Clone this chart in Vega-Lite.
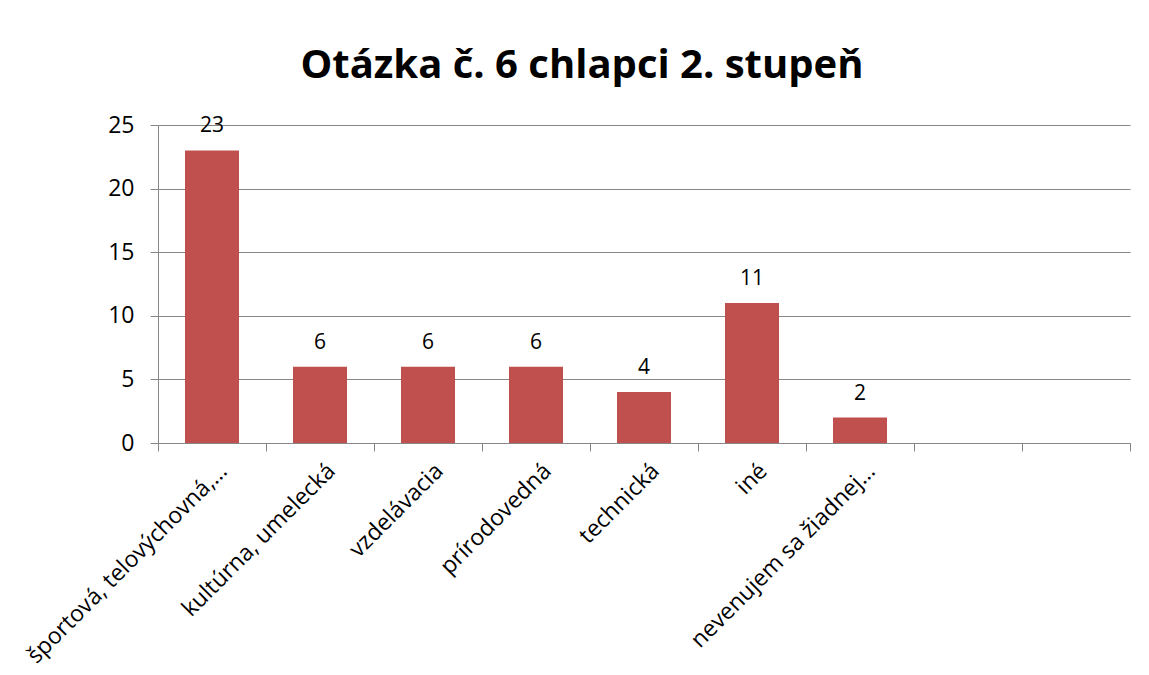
{
  "$schema": "https://vega.github.io/schema/vega-lite/v6.json",
  "width": 972,
  "height": 318,
  "autosize": "none",
  "padding": {"left": 158, "top": 125, "right": 19, "bottom": 232},
  "background": "white",
  "config": {
    "font": "Open Sans",
    "view": {"stroke": null}
  },
  "title": {
    "text": "Otázka č. 6 chlapci 2. stupeň",
    "font": "Open Sans",
    "fontSize": 40,
    "fontWeight": "bold",
    "color": "black",
    "anchor": "middle",
    "baseline": "alphabetic",
    "offset": -4,
    "dx": -62
  },
  "data": {
    "values": [
      {"kategoria": "športová, telovýchovná,…", "pocet": 23},
      {"kategoria": "kultúrna, umelecká", "pocet": 6},
      {"kategoria": "vzdelávacia", "pocet": 6},
      {"kategoria": "prírodovedná", "pocet": 6},
      {"kategoria": "technická", "pocet": 4},
      {"kategoria": "iné", "pocet": 11},
      {"kategoria": "nevenujem sa žiadnej…", "pocet": 2},
      {"kategoria": "e1", "pocet": null},
      {"kategoria": "e2", "pocet": null}
    ]
  },
  "encoding": {
    "x": {
      "field": "kategoria",
      "type": "nominal",
      "sort": null,
      "scale": {
        "domain": ["športová, telovýchovná,…", "kultúrna, umelecká", "vzdelávacia", "prírodovedná", "technická", "iné", "nevenujem sa žiadnej…", "e1", "e2"],
        "paddingInner": 0,
        "paddingOuter": 0
      },
      "axis": {
        "title": null,
        "tickBand": "extent",
        "grid": false,
        "domainColor": "#868686",
        "tickColor": "#868686",
        "tickSize": 8,
        "labelAngle": -45,
        "labelAlign": "right",
        "labelBaseline": "alphabetic",
        "labelOffset": 16,
        "labelPadding": 21,
        "labelFont": "Open Sans",
        "labelFontSize": 23,
        "labelColor": "black",
        "labelLimit": 0,
        "labelExpr": "datum.value == 'e1' || datum.value == 'e2' ? '' : datum.value"
      }
    },
    "y": {
      "field": "pocet",
      "type": "quantitative",
      "scale": {"domain": [0, 25], "nice": false},
      "axis": {
        "title": null,
        "values": [0, 5, 10, 15, 20, 25],
        "grid": true,
        "gridColor": "#868686",
        "domainColor": "#868686",
        "tickColor": "#868686",
        "tickSize": 8,
        "labelPadding": 16,
        "labelFont": "Open Sans",
        "labelFontSize": 23,
        "labelColor": "black"
      }
    }
  },
  "layer": [
    {
      "mark": {"type": "bar", "color": "#C0504D", "width": {"band": 0.5}}
    },
    {
      "mark": {"type": "text", "baseline": "alphabetic", "dy": -18, "fontSize": 21, "font": "Open Sans", "color": "black"},
      "encoding": {"text": {"field": "pocet", "type": "quantitative"}}
    }
  ]
}
